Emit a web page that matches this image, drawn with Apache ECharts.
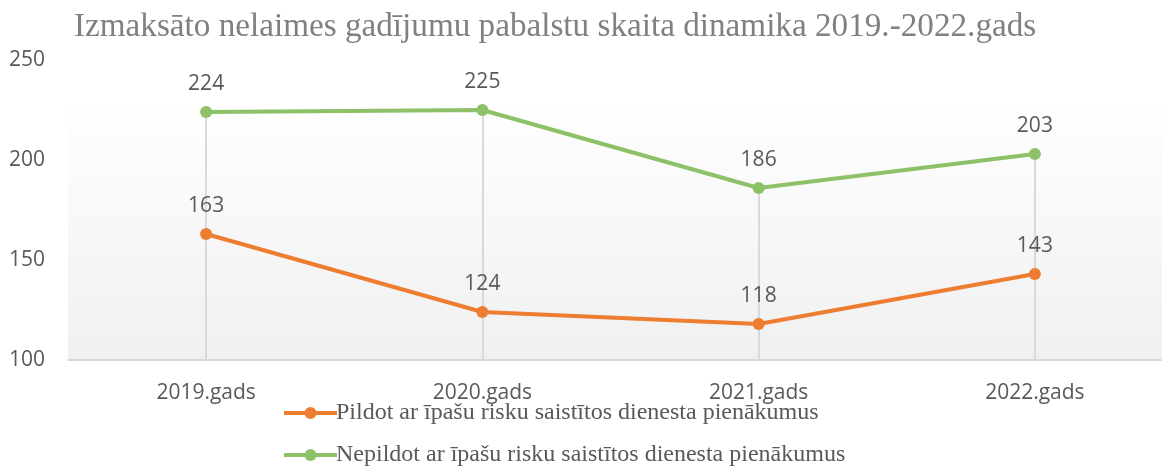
<!DOCTYPE html>
<html>
<head>
<meta charset="utf-8">
<style>
  html, body { margin: 0; padding: 0; background: #ffffff; }
  #chart { width: 1162px; height: 467px; }
</style>
<script src="https://cdn.jsdelivr.net/npm/echarts@6/dist/echarts.min.js"></script>
</head>
<body>
<div id="chart"></div>
<script>
const titleText = 'Izmaksāto nelaimes gadījumu pabalstu skaita dinamika 2019.-2022.gads';
const categories = ['2019.gads', '2020.gads', '2021.gads', '2022.gads'];
const seriesNames = [
  'Pildot ar īpašu risku saistītos dienesta pienākumus',
  'Nepildot ar īpašu risku saistītos dienesta pienākumus'
];
const pildot = [163, 124, 118, 143];
const nepildot = [224, 225, 186, 203];
const yMin = 100, yMax = 250, yStep = 50;
const plotAreaTop = 231;

const chart = echarts.init(document.getElementById('chart'));
const labelFont = { fontFamily: 'Open Sans', fontSize: 21, color: '#595959' };
const legendBase = {
  orient: 'vertical',
  left: 277,
  itemWidth: 53, itemHeight: 15,
  lineStyle: { width: 4 },
  textStyle: { fontFamily: 'Liberation Serif', fontSize: 24, color: '#595959', padding: [0, 0, 0, -6] }
};

chart.setOption({
  animation: false,
  backgroundColor: '#ffffff',
  title: {
    text: titleText,
    left: 69, top: 6,
    textStyle: { fontFamily: 'Liberation Serif', fontWeight: 'normal', fontSize: 33.2, color: '#808080' }
  },
  legend: [
    Object.assign({ top: 396, data: [seriesNames[0]] }, legendBase),
    Object.assign({ top: 438, data: [seriesNames[1]] }, legendBase)
  ],
  grid: { left: 68, top: 60, right: -11, bottom: 107, containLabel: false, outerBoundsMode: 'none' },
  xAxis: {
    type: 'category',
    data: categories,
    boundaryGap: true,
    axisLine: { lineStyle: { color: '#d9d9d9', width: 2 } },
    axisTick: { show: false },
    axisLabel: Object.assign({ margin: 23 }, labelFont),
    splitLine: { show: false }
  },
  yAxis: {
    type: 'value',
    min: yMin, max: yMax, interval: yStep,
    axisLine: { show: false },
    axisTick: { show: false },
    splitLine: { show: false },
    axisLabel: Object.assign({ margin: 23 }, labelFont)
  },
  series: [
    {
      name: seriesNames[0],
      type: 'line',
      data: pildot,
      color: '#ed7d31',
      lineStyle: { width: 4, color: '#ed7d31' },
      symbol: 'circle', symbolSize: 12,
      itemStyle: { color: '#ed7d31' },
      label: Object.assign({ show: true, position: 'top', distance: 11 }, labelFont),
      z: 3,
      markArea: {
        silent: true,
        z: 0,
        itemStyle: {
          color: new echarts.graphic.LinearGradient(0, 0, 0, 1, [
            { offset: 0, color: '#ffffff' },
            { offset: 1, color: '#f0f0f0' }
          ])
        },
        data: [[{ yAxis: yMin }, { yAxis: plotAreaTop }]]
      }
    },
    {
      name: seriesNames[1],
      type: 'line',
      data: nepildot,
      color: '#8cc168',
      lineStyle: { width: 4, color: '#8cc168' },
      symbol: 'circle', symbolSize: 12,
      itemStyle: { color: '#8cc168' },
      label: Object.assign({ show: true, position: 'top', distance: 11 }, labelFont),
      z: 3,
      markLine: {
        silent: true,
        z: 1,
        symbol: ['none', 'none'],
        label: { show: false },
        lineStyle: { color: '#d9d9d9', width: 2, type: 'solid' },
        data: nepildot.map((v, i) => [{ coord: [i, v] }, { coord: [i, yMin] }])
      }
    }
  ]
});
</script>
</body>
</html>
